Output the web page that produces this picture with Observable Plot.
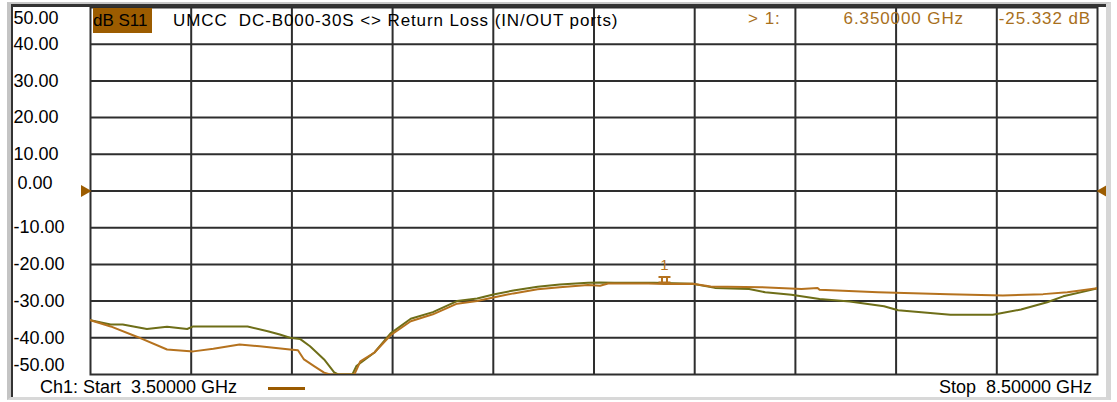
<!DOCTYPE html>
<html><head><meta charset="utf-8">
<script src="https://cdn.jsdelivr.net/npm/d3@7"></script>
<script src="https://cdn.jsdelivr.net/npm/@observablehq/plot@0.6"></script>
<style>
body{margin:0;background:#fff;}
#wrap{position:relative;width:1117px;height:402px;overflow:hidden;font-family:"Liberation Sans",Arial,sans-serif;}
#wrap svg{position:absolute;left:0;top:0;}
#chrome{position:absolute;left:7px;top:2px;width:1095px;height:393px;border-left:4px solid #c4c4c4;border-top:2px solid #c8c8c8;border-right:5px solid #d6d6d6;border-bottom:3px solid #d8d8d8;box-shadow:inset 2px 0 0 #333, inset 0 3px 0 #333;pointer-events:none;}
.t{position:absolute;white-space:pre;font-size:17px;line-height:25px;color:#000;}
#badge{left:93px;top:8px;width:59px;height:25px;background:#9c5c00;}
#title{left:173px;top:8px;letter-spacing:0.9px;}
#mk1{left:748px;top:6px;color:#a8701c;letter-spacing:1px;}
#mkf{right:153px;top:6px;color:#a8701c;letter-spacing:0.9px;}
#mkd{right:26px;top:6px;color:#a8701c;letter-spacing:0.9px;}
#start{left:40px;top:375px;font-size:18px;}
#stop{right:25px;top:375px;font-size:18px;}
#leg{position:absolute;left:268px;top:387px;width:37px;height:3px;background:#9a5a00;}
</style>
</head><body>
<div id="wrap"></div>
<script>
// ---- data ----
const xDomain = [3.5, 8.5];              // GHz, start / stop
const xTicks = [3.5, 4.0, 4.5, 5.0, 5.5, 6.0, 6.5, 7.0, 7.5, 8.0, 8.5];
const yTicks = [50, 40, 30, 20, 10, 0, -10, -20, -30, -40, -50];
const refLevel = [0];

const brownFreq = [3.50, 3.60, 3.73, 3.88, 4.01, 4.11, 4.24, 4.34, 4.49, 4.53, 4.56, 4.61, 4.66, 4.69, 4.81, 4.84, 4.91, 4.99, 5.09, 5.20, 5.32, 5.42, 5.50, 5.60, 5.72, 5.83, 5.97, 6.03, 6.07, 6.27, 6.35, 6.49, 6.58, 6.83, 7.03, 7.11, 7.12, 7.41, 7.76, 8.03, 8.23, 8.35, 8.50];
const brownDb = [-35.2, -36.9, -39.7, -43.2, -43.7, -43.0, -41.8, -42.3, -43.2, -43.4, -45.9, -47.7, -49.5, -50, -50, -46.4, -44.0, -39.3, -35.5, -33.6, -30.7, -30.0, -29.0, -27.9, -26.8, -26.2, -25.6, -25.8, -25.2, -25.2, -25.33, -25.3, -26.0, -26.2, -26.7, -26.4, -26.9, -27.6, -28.1, -28.5, -28.1, -27.6, -26.5];

const greenFreq = [3.50, 3.60, 3.66, 3.78, 3.88, 3.98, 4.01, 4.28, 4.38, 4.44, 4.49, 4.54, 4.59, 4.66, 4.71, 4.73, 4.80, 4.82, 4.91, 4.99, 5.09, 5.20, 5.32, 5.42, 5.50, 5.60, 5.72, 5.83, 5.97, 6.03, 6.10, 6.30, 6.49, 6.60, 6.77, 6.85, 6.98, 7.12, 7.27, 7.44, 7.51, 7.77, 7.98, 8.12, 8.25, 8.33, 8.48, 8.50];
const greenDb = [-35.2, -36.4, -36.4, -37.6, -37.0, -37.6, -36.9, -36.9, -38.2, -39.1, -40.0, -40.3, -42.3, -45.9, -49.4, -50, -50, -47.7, -44.0, -38.8, -34.8, -33.0, -30.0, -29.3, -28.2, -27.1, -26.1, -25.5, -25.0, -24.9, -25.0, -25.0, -25.3, -26.4, -26.7, -27.6, -28.3, -29.4, -30.1, -31.4, -32.5, -33.7, -33.7, -32.3, -30.3, -28.7, -26.8, -26.5];

const markerFreq = [6.35];
const markerDb = [-25.332];
const markerLabel = ["1"];

const headerBadge = "dB S11";
const headerTitle = "UMCC  DC-B000-30S <> Return Loss (IN/OUT ports)";

// ---- build ----
const brown = brownFreq.map((f, i) => ({f, db: brownDb[i]}));
const green = greenFreq.map((f, i) => ({f, db: greenDb[i]}));
const markers = markerFreq.map((f, i) => ({f, db: markerDb[i], label: markerLabel[i]}));

const gridColor = "#2e2e2e";
const brownColor = "#b5721e";
const greenColor = "#6e6e18";
const accent = "#9c5c00";

const markerSymbol = {
  draw(ctx) {
    ctx.moveTo(-6, -3); ctx.lineTo(6, -3);
    ctx.moveTo(-6, 2.5); ctx.lineTo(6, 2.5);
    ctx.moveTo(-2.5, -3); ctx.lineTo(-2.5, 2.5);
    ctx.moveTo(2.5, -3); ctx.lineTo(2.5, 2.5);
  }
};

const fmt = d => d.toFixed(2);
const labelFont = {fontSize: 18, fontFamily: "Liberation Sans, Arial, sans-serif", fill: "#000"};

const chart = Plot.plot({
  width: 1117,
  height: 402,
  marginLeft: 90,
  marginRight: 20,
  marginTop: 7,
  marginBottom: 28,
  style: {background: "transparent", overflow: "visible"},
  x: {domain: xDomain, axis: null},
  y: {domain: [-50, 50], axis: null},
  marks: [
    Plot.ruleX(xTicks.slice(1, -1), {stroke: gridColor, strokeWidth: 2}),
    Plot.ruleY(yTicks.slice(1, -1), {stroke: gridColor, strokeWidth: 2}),
    Plot.frame({stroke: gridColor, strokeWidth: 2}),
    Plot.line(green, {x: "f", y: "db", stroke: greenColor, strokeWidth: 2, clip: true}),
    Plot.line(brown, {x: "f", y: "db", stroke: brownColor, strokeWidth: 2, clip: true}),
    Plot.dot(markers, {x: "f", y: "db", symbol: markerSymbol, stroke: brownColor, strokeWidth: 2, fill: "none", dy: -4}),
    Plot.text(markers, {x: "f", y: "db", text: "label", dy: -19, fill: brownColor, fontSize: 15, fontFamily: "Liberation Sans, Arial, sans-serif"}),
    Plot.dot(refLevel, {x: () => xDomain[0], y: d => d, symbol: "triangle", rotate: 90, r: 4.5, fill: accent, dx: -6}),
    Plot.dot(refLevel, {x: () => xDomain[1], y: d => d, symbol: "triangle", rotate: -90, r: 4.5, fill: accent, dx: 6}),
    Plot.text(yTicks.filter(v => Math.abs(v) < 50 && v !== 0), {y: d => d, text: fmt, frameAnchor: "left", textAnchor: "start", dx: -77, ...labelFont}),
    Plot.text(yTicks.filter(v => v === 50), {y: d => d, text: fmt, frameAnchor: "left", textAnchor: "start", dx: -77, dy: 11, ...labelFont}),
    Plot.text(yTicks.filter(v => v === 0), {y: d => d, text: fmt, frameAnchor: "left", textAnchor: "start", dx: -73, dy: -8, ...labelFont}),
    Plot.text(yTicks.filter(v => v === -50), {y: d => d, text: fmt, frameAnchor: "left", textAnchor: "start", dx: -77, dy: -9, ...labelFont})
  ]
});

const wrap = document.getElementById("wrap");
wrap.appendChild(chart);

function addDiv(id, cls, text) {
  const d = document.createElement("div");
  d.id = id; if (cls) d.className = cls;
  if (text != null) d.textContent = text;
  wrap.appendChild(d);
  return d;
}
addDiv("badge", "t", headerBadge);
addDiv("title", "t", headerTitle);
addDiv("mk1", "t", "> " + markerLabel[0] + ":");
addDiv("mkf", "t", markerFreq[0].toFixed(6) + " GHz");
addDiv("mkd", "t", markerDb[0].toFixed(3) + " dB");
addDiv("start", "t", "Ch1: Start  " + xDomain[0].toFixed(5) + " GHz");
addDiv("leg", null, null);
addDiv("stop", "t", "Stop  " + xDomain[1].toFixed(5) + " GHz");
addDiv("chrome", null, null);
</script>
</body></html>
